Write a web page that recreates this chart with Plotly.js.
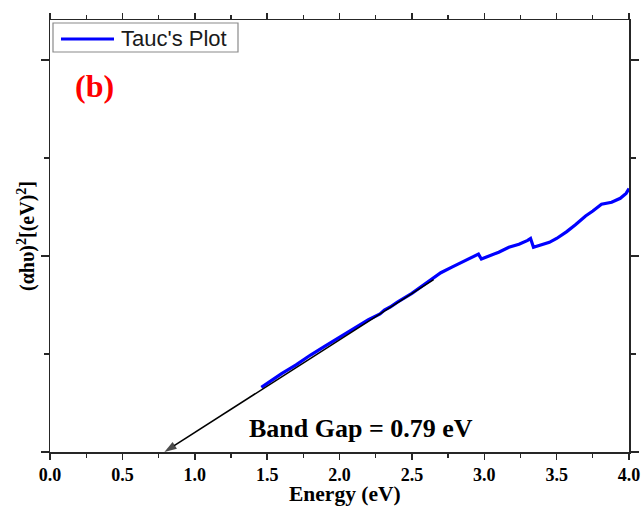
<!DOCTYPE html>
<html>
<head>
<meta charset="utf-8">
<script src="https://cdn.plot.ly/plotly-3.0.1.min.js"></script>
<style>
  html, body { margin: 0; padding: 0; background: #fff; }
  #chart { width: 643px; height: 506px; }
</style>
</head>
<body>
<div id="chart"></div>
<script>
// Photon energy (eV) of the measured spectrum
const energy = [1.46, 1.50, 1.55, 1.60, 1.70, 1.80, 1.90, 2.00, 2.10, 2.20,
                2.28, 2.31, 2.35, 2.40, 2.50, 2.60, 2.65, 2.70, 2.78, 2.85,
                2.90, 2.96, 2.98, 3.05, 3.10, 3.17, 3.24, 3.30, 3.32, 3.34,
                3.40, 3.45, 3.50, 3.57, 3.63, 3.70, 3.75, 3.81, 3.88, 3.94,
                3.98, 4.00];
// (alpha h nu)^2, arbitrary units
const tauc = [0.66, 0.70, 0.75, 0.80, 0.89, 0.99, 1.08, 1.17, 1.26, 1.35,
              1.41, 1.45, 1.48, 1.53, 1.62, 1.73, 1.78, 1.83, 1.89, 1.94,
              1.98, 2.02, 1.97, 2.01, 2.04, 2.09, 2.12, 2.16, 2.18, 2.09,
              2.12, 2.14, 2.18, 2.25, 2.32, 2.41, 2.46, 2.53, 2.55, 2.59,
              2.64, 2.69];

// Linear extrapolation of the absorption edge, drawn from the upper end
// down to its intercept on the energy axis (the band gap)
const bandGap = 0.79;
const fitE = [2.65, bandGap];
const fitY = [1.76, 0];

const xTicks = [0, 0.5, 1.0, 1.5, 2.0, 2.5, 3.0, 3.5, 4.0];
const xTickText = ['0.0', '0.5', '1.0', '1.5', '2.0', '2.5', '3.0', '3.5', '4.0'];

const serifBold = { family: 'Liberation Serif, Times New Roman, serif', weight: 'bold', color: '#000' };
const axisColor = '#262626';

const traces = [
  {
    x: energy,
    y: tauc,
    type: 'scatter',
    mode: 'lines',
    name: "Tauc's Plot",
    showlegend: false,
    line: { color: '#0000ff', width: 3.2 }
  },
  {
    x: fitE,
    y: fitY,
    type: 'scatter',
    mode: 'lines+markers',
    name: 'Linear fit',
    showlegend: false,
    line: { color: '#000', width: 1.6 },
    marker: { symbol: 'arrow', angleref: 'previous', size: [0, 13], color: '#000', line: { width: 0 } },
    cliponaxis: false
  }
];

const L = 50, R = 629, T = 20, B = 452;
const px = v => (v - L) / (R - L);
const py = v => (B - v) / (B - T);

const layout = {
  width: 643,
  height: 506,
  margin: { l: L, r: 643 - R, t: T, b: 506 - B },
  paper_bgcolor: '#fff',
  plot_bgcolor: '#fff',
  showlegend: false,
  xaxis: {
    range: [0, 4],
    tickvals: xTicks,
    ticktext: xTickText,
    ticks: 'outside',
    ticklen: 6,
    tickwidth: 1.5,
    tickcolor: axisColor,
    minor: { ticks: 'outside', dtick: 0.25, ticklen: 4, tickwidth: 1.3, tickcolor: axisColor },
    showline: true,
    linecolor: axisColor,
    linewidth: 1.5,
    mirror: 'ticks',
    showgrid: false,
    zeroline: false,
    tickfont: Object.assign({ size: 18 }, serifBold)
  },
  yaxis: {
    range: [0, 4.41],
    dtick: 2,
    tick0: 0,
    showticklabels: false,
    ticks: 'outside',
    ticklen: 8,
    tickwidth: 1.5,
    tickcolor: axisColor,
    minor: { ticks: 'outside', dtick: 1, ticklen: 5, tickwidth: 1.3, tickcolor: axisColor },
    showline: true,
    linecolor: axisColor,
    linewidth: 1.5,
    mirror: 'ticks',
    showgrid: false,
    zeroline: false,
    title: { text: '(αhυ)<sup>2</sup>[(eV)<sup>2</sup>]', font: Object.assign({ size: 20 }, serifBold), standoff: 0 }
  },
  shapes: [
    // legend frame and swatch
    { type: 'rect', xref: 'paper', yref: 'paper', x0: px(53), x1: px(238), y0: py(52), y1: py(23),
      line: { color: '#8a8a8a', width: 1.2 }, fillcolor: 'rgba(255,255,255,0)' },
    { type: 'line', xref: 'paper', yref: 'paper', x0: px(61), x1: px(114), y0: py(39), y1: py(39),
      line: { color: '#0000ff', width: 3.2 } }
  ],
  annotations: [
    // energy axis title, set just under the tick labels
    { xref: 'paper', yref: 'paper', x: px(345), y: py(507), xanchor: 'center', yanchor: 'bottom',
      text: 'Energy (eV)', showarrow: false, borderpad: 0,
      font: Object.assign({ size: 21.5 }, serifBold) },
    { xref: 'paper', yref: 'paper', x: px(119), y: py(38.5), xanchor: 'left', yanchor: 'middle',
      text: traces[0].name, showarrow: false,
      font: { family: 'Liberation Sans, Arial, sans-serif', size: 22, color: '#1a1a1a' } },
    { xref: 'paper', yref: 'paper', x: px(94), y: py(86), xanchor: 'center', yanchor: 'middle',
      text: '(b)', showarrow: false,
      font: { family: 'Liberation Serif, Times New Roman, serif', weight: 'bold', size: 32, color: '#ff0000' } },
    { xref: 'x', yref: 'y', x: 2.15, y: 0.245, xanchor: 'center', yanchor: 'middle',
      text: 'Band Gap = ' + bandGap.toFixed(2) + ' eV', showarrow: false,
      font: Object.assign({ size: 26 }, serifBold) }
  ]
};

Plotly.newPlot('chart', traces, layout, { displayModeBar: false, staticPlot: true });
</script>
</body>
</html>
